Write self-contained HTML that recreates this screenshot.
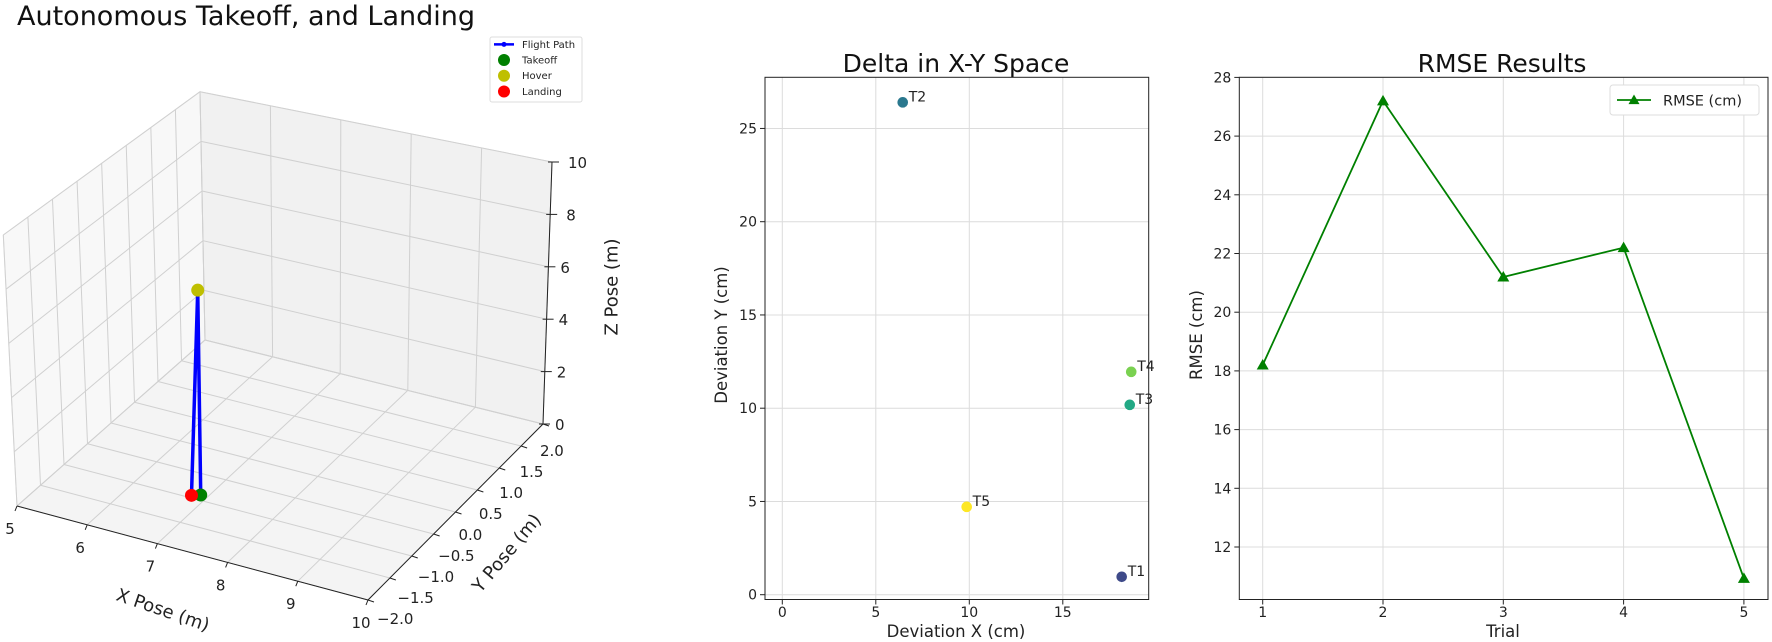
<!DOCTYPE html>
<html><head><meta charset="utf-8"><style>
html,body{margin:0;padding:0;background:#fff}
svg{display:block;font-family:"DejaVu Sans","Liberation Sans",sans-serif}
</style></head><body>
<svg id="root" xmlns="http://www.w3.org/2000/svg" width="1772" height="642" viewBox="0 0 1772 642">
<rect width="1772" height="642" fill="#fff"/>
<g id="g3d"></g>
<g id="gxy"></g>
<g id="grm"></g>
</svg>
<script>
// ---------- data ----------
const pathX = [6.9, 6.95, 6.8];
const pathY = [-0.9, -0.92, -0.95];
const pathZ = [0, 7.8, 0];
const xTicks3d = [5,6,7,8,9,10];
const yTicks3d = [-2,-1.5,-1,-0.5,0,0.5,1,1.5,2];
const yTickLabels3d = ["\u22122.0","\u22121.5","\u22121.0","\u22120.5","0.0","0.5","1.0","1.5","2.0"];
const zTicks3d = [0,2,4,6,8,10];

const trialLabels = ["T1","T2","T3","T4","T5"];
const devX = [18.15, 6.44, 18.58, 18.66, 9.86];
const devY = [0.96, 26.4, 10.18, 11.95, 4.71];
const trialColors = ["#3e4a89","#2a788e","#22a884","#7ad151","#fde725"];
const xyXTicks = [0,5,10,15];
const xyYTicks = [0,5,10,15,20,25];

const trials = [1,2,3,4,5];
const rmse = [18.2, 27.2, 21.2, 22.2, 10.93];
const rmYTicks = [12,14,16,18,20,22,24,26,28];

const NS="http://www.w3.org/2000/svg";
function mk(parent, tag, attrs, text){
  const e=document.createElementNS(NS,tag);
  for(const k in attrs) e.setAttribute(k,attrs[k]);
  if(text!==undefined) e.textContent=text;
  parent.appendChild(e); return e;
}

// ---------- 3D plot ----------
const g3=document.getElementById('g3d');
const Fd=[17,506], Fg=[368,600], Fe=[205,340], Ff=[543,424];
const Ta=[3.3,235], Tg=[364,334], Tb=[200,91.7], Tc=[552,162];
function bil(P00,P10,P01,P11,u,v){
  return [P00[0]*(1-u)*(1-v)+P10[0]*u*(1-v)+P01[0]*(1-u)*v+P11[0]*u*v,
          P00[1]*(1-u)*(1-v)+P10[1]*u*(1-v)+P01[1]*(1-u)*v+P11[1]*u*v];
}
function p3(x,y,z){
  const u=(x-5)/5, v=(y+2)/4, t=z/10;
  const f=bil(Fd,Fg,Fe,Ff,u,v), tp=bil(Ta,Tg,Tb,Tc,u,v);
  return [f[0]+(tp[0]-f[0])*t, f[1]+(tp[1]-f[1])*t];
}
function poly(pts,fill,name){
  const e=mk(g3,'polygon',{points:pts.map(p=>p.join(',')).join(' '),fill:fill,stroke:'#e4e4e4','stroke-width':1});
  
  
}
poly([p3(5,-2,0),p3(5,2,0),p3(5,2,10),p3(5,-2,10)],'#f8f8f8','left-pane');
poly([p3(5,2,0),p3(10,2,0),p3(10,2,10),p3(5,2,10)],'#f1f1f1','back-pane');
poly([p3(5,-2,0),p3(10,-2,0),p3(10,2,0),p3(5,2,0)],'#f4f4f4','floor-pane');
function ln(g,a,b,st,w,name){
  const e=mk(g,'line',{x1:a[0],y1:a[1],x2:b[0],y2:b[1],stroke:st,'stroke-width':w});
  
  
  return e;
}
const gc='#d0d0d0';
xTicks3d.forEach(x=>{ ln(g3,p3(x,-2,0),p3(x,2,0),gc,1,'floor-grid-x'); ln(g3,p3(x,2,0),p3(x,2,10),gc,1,'back-grid-x'); });
yTicks3d.forEach(y=>{ ln(g3,p3(5,y,0),p3(10,y,0),gc,1,'floor-grid-y'); ln(g3,p3(5,y,0),p3(5,y,10),gc,1,'left-grid-y'); });
zTicks3d.forEach(z=>{ ln(g3,p3(5,-2,z),p3(5,2,z),gc,1,'left-grid-z'); ln(g3,p3(5,2,z),p3(10,2,z),gc,1,'back-grid-z'); });
// axis lines
ln(g3,p3(5,-2,0),p3(10,-2,0),'#222',1,'x-axis-line');
ln(g3,p3(10,-2,0),p3(10,2,0),'#222',1,'y-axis-line');
ln(g3,p3(10,2,0),p3(10,2,10),'#222',1,'z-axis-line');
// tick labels
xTicks3d.forEach(x=>{
  const p=p3(x,-2,0);
  ln(g3,p,[p[0]-2,p[1]+5],'#222',1,'x-tick');
  const t=mk(g3,'text',{x:p[0]-7,y:p[1]+28,'font-size':15,'text-anchor':'middle',fill:'#222'},String(x));
  
  
});
yTicks3d.forEach((y,i)=>{
  const p=p3(10,y,0), v=(y+2)/4;
  ln(g3,p,[p[0]+6,p[1]+2],'#222',1,'y-tick');
  const t=mk(g3,'text',{x:p[0]+9-12*v,y:p[1]+19+8*v+5,'font-size':15,fill:'#222'},yTickLabels3d[i]);
  
  
});
zTicks3d.forEach(z=>{
  const p=p3(10,2,z);
  ln(g3,[p[0]-4,p[1]],[p[0]+7,p[1]],'#222',1,'z-tick');
  const t=mk(g3,'text',{x:p[0]+12+(z>=8?4:0),y:p[1]+6,'font-size':15,fill:'#222'},String(z));
  
  
});
// flight path
const pp=pathX.map((x,i)=>p3(x,pathY[i],pathZ[i]));
const pl=mk(g3,'polyline',{points:pp.map(p=>p.join(',')).join(' '),fill:'none',stroke:'#0000ff','stroke-width':3.5});


[[0,'#008000','takeoff-marker'],[1,'#bfbf00','hover-marker'],[2,'#ff0000','landing-marker']].forEach(([i,c,n])=>{
  const m=mk(g3,'circle',{cx:pp[i][0],cy:pp[i][1],r:6.5,fill:c});
  
  
});
// labels
mk(g3,'text',{x:17,y:25,'font-size':27,fill:'#111',},'Autonomous Takeoff, and Landing');
mk(g3,'text',{x:163,y:616,'font-size':18,'text-anchor':'middle',transform:'rotate(19 163 610)',fill:'#222',},'X Pose (m)');
mk(g3,'text',{x:506.7,y:559,'font-size':18,'text-anchor':'middle',transform:'rotate(-50 506.7 553)',fill:'#222',},'Y Pose (m)');
mk(g3,'text',{x:611.7,y:293,'font-size':18,'text-anchor':'middle',transform:'rotate(-90 611.7 287)',fill:'#222',},'Z Pose (m)');
// legend
const lg=mk(g3,'g',{});
mk(lg,'rect',{x:490,y:37,width:92,height:65,fill:'#fff',stroke:'#ddd',rx:2});
mk(lg,'line',{x1:494,y1:44.4,x2:514,y2:44.4,stroke:'#0000ff','stroke-width':2.5});
mk(lg,'circle',{cx:504,cy:44.4,r:2.5,fill:'#0000ff'});
[['Flight Path',44.4,null],['Takeoff',60,'#008000'],['Hover',75.7,'#bfbf00'],['Landing',91.5,'#ff0000']].forEach(([t,y,c])=>{
  if(c){ const m=mk(lg,'circle',{cx:504,cy:y,r:6,fill:c});   }
  const e=mk(lg,'text',{x:522,y:y+3.5,'font-size':10,fill:'#222'},t);
  
  
});

// ---------- XY scatter ----------
const gx=document.getElementById('gxy');
const XL=765, XR=1148.7, YT=77.3, YB=599.5;
const sx=v=>782.3+v*18.7, sy=v=>594.7-v*18.65;
xyXTicks.forEach(t=>{
  ln(gx,[sx(t),YT],[sx(t),YB],'#dcdcdc',1,'x-gridline');
  ln(gx,[sx(t),YB],[sx(t),YB+5],'#222',1,'x-tick');
  const e=mk(gx,'text',{x:sx(t),y:617,'font-size':14,'text-anchor':'middle',fill:'#222'},String(t));
  
  
});
xyYTicks.forEach(t=>{
  ln(gx,[XL,sy(t)],[XR,sy(t)],'#dcdcdc',1,'y-gridline');
  ln(gx,[XL-5,sy(t)],[XL,sy(t)],'#222',1,'y-tick');
  const e=mk(gx,'text',{x:XL-8,y:sy(t)+5,'font-size':14,'text-anchor':'end',fill:'#222'},String(t));
  
  
});
mk(gx,'rect',{x:XL,y:YT,width:XR-XL,height:YB-YT,fill:'none',stroke:'#222','stroke-width':1,});
devX.forEach((x,i)=>{
  const c=mk(gx,'circle',{cx:sx(x),cy:sy(devY[i]),r:5.3,fill:trialColors[i]});
  
  
  const t=mk(gx,'text',{x:sx(x)+6,y:sy(devY[i])-1,'font-size':14,fill:'#222'},trialLabels[i]);
  
  
});
mk(gx,'text',{x:956,y:72,'font-size':25,'text-anchor':'middle',fill:'#111',},'Delta in X-Y Space');
mk(gx,'text',{x:956,y:637,'font-size':16.5,'text-anchor':'middle',fill:'#222',},'Deviation X (cm)');
mk(gx,'text',{x:733,y:341,'font-size':16.5,'text-anchor':'middle',transform:'rotate(-90 727 341)',fill:'#222',},'Deviation Y (cm)');

// ---------- RMSE line ----------
const gr=document.getElementById('grm');
const RL=1239.3, RR=1768, RT=77.3, RB=599.5;
const rx=v=>1262.7+(v-1)*120.3, ry=v=>77.4+(28-v)*29.35;
trials.forEach(t=>{
  ln(gr,[rx(t),RT],[rx(t),RB],'#dcdcdc',1,'x-gridline');
  ln(gr,[rx(t),RB],[rx(t),RB+5],'#222',1,'x-tick');
  const e=mk(gr,'text',{x:rx(t),y:617,'font-size':14,'text-anchor':'middle',fill:'#222'},String(t));
  
  
});
rmYTicks.forEach(t=>{
  ln(gr,[RL,ry(t)],[RR,ry(t)],'#dcdcdc',1,'y-gridline');
  ln(gr,[RL-5,ry(t)],[RL,ry(t)],'#222',1,'y-tick');
  const e=mk(gr,'text',{x:RL-8,y:ry(t)+5,'font-size':14,'text-anchor':'end',fill:'#222'},String(t));
  
  
});
mk(gr,'rect',{x:RL,y:RT,width:RR-RL,height:RB-RT,fill:'none',stroke:'#222','stroke-width':1,});
const rl=mk(gr,'polyline',{points:trials.map((t,i)=>rx(t)+','+ry(rmse[i])).join(' '),fill:'none',stroke:'#008000','stroke-width':1.8});


function tri(g,cx,cy,s){ return mk(g,'polygon',{points:`${cx},${cy-s} ${cx-s},${cy+s*0.75} ${cx+s},${cy+s*0.75}`,fill:'#008000'}); }
trials.forEach((t,i)=>{
  const m=tri(gr,rx(t),ry(rmse[i]),6);
  
  
});
mk(gr,'text',{x:1502,y:72,'font-size':25,'text-anchor':'middle',fill:'#111',},'RMSE Results');
mk(gr,'text',{x:1503,y:637,'font-size':16.5,'text-anchor':'middle',fill:'#222',},'Trial');
mk(gr,'text',{x:1208,y:341,'font-size':16.5,'text-anchor':'middle',transform:'rotate(-90 1202 341)',fill:'#222',},'RMSE (cm)');
const rlg=mk(gr,'g',{});
mk(rlg,'rect',{x:1610,y:85,width:149,height:30,fill:'#fff',stroke:'#ddd',rx:3});
mk(rlg,'line',{x1:1617,y1:100,x2:1651,y2:100,stroke:'#008000','stroke-width':1.8});
tri(rlg,1634,100,5.5);
mk(rlg,'text',{x:1663,y:105.5,'font-size':14.5,fill:'#222',},'RMSE (cm)');
</script>
</body></html>
